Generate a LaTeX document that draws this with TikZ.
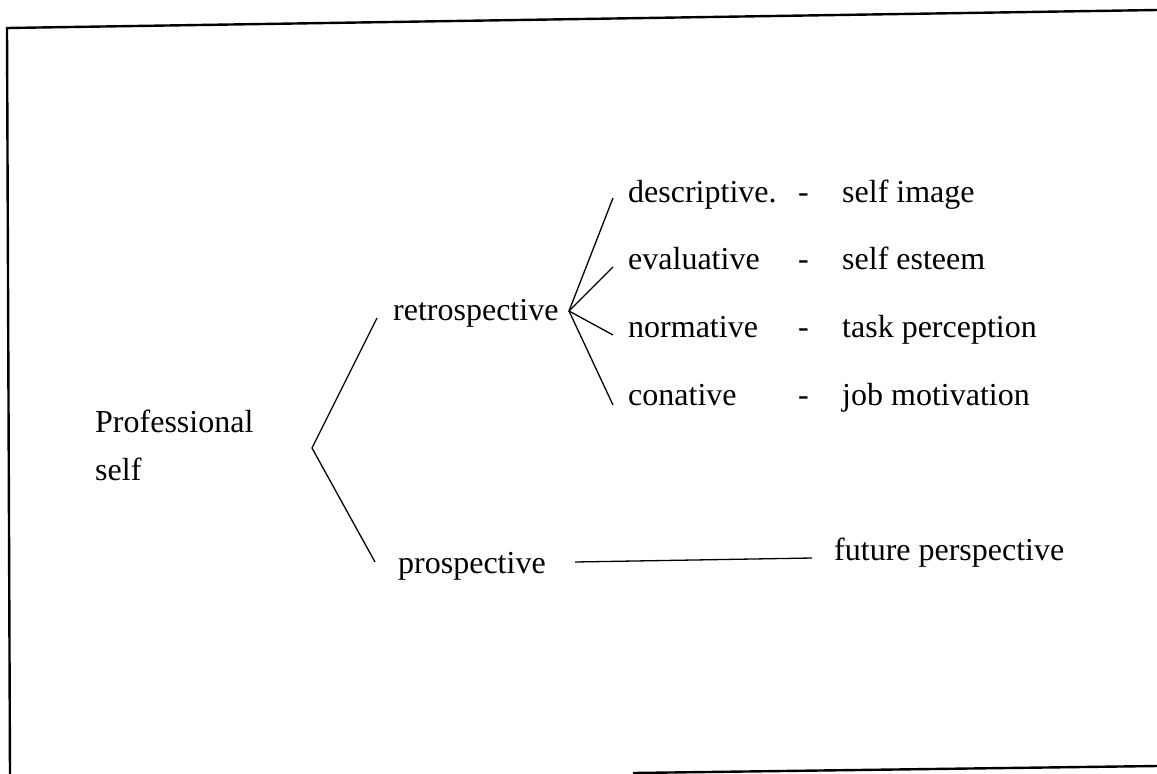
\documentclass[tikz,border=0pt]{standalone}
\usepackage{fontspec}
\setmainfont{Liberation Serif}
\begin{document}
\begin{tikzpicture}[x=1pt,y=-1pt,
  lbl/.style={anchor=base west,inner sep=0pt,font=\fontsize{32}{38}\selectfont},
  frame/.style={line width=2.4pt},
  conn/.style={line width=1.3pt}]
\useasboundingbox (0,0) rectangle (1157,774);
% frame
\coordinate (ftl) at (7,28);
\coordinate (ftr) at (1157,10);
\coordinate (fbl) at (10,774);
\coordinate (fb1) at (633,773);
\coordinate (fb2) at (1157,766);
\draw[frame] (fbl) -- (ftl) -- (ftr);
\draw[frame] (fb1) -- (fb2);
% texts
\node[lbl] (prof) at (95,432) {Professional};
\node[lbl] (self) at (95,480) {self};
\node[lbl] (retro) at (393,320) {retrospective};
\node[lbl] (pros) at (398,573) {prospective};
\node[lbl] (desc) at (628,202) {descriptive.};
\node[lbl] (eval) at (628,269) {evaluative};
\node[lbl] (norm) at (628,337) {normative};
\node[lbl] (conat) at (628,405) {conative};
\node[lbl] (d1) at (798,202) {-};
\node[lbl] (d2) at (798,269) {-};
\node[lbl] (d3) at (798,337) {-};
\node[lbl] (d4) at (798,405) {-};
\node[lbl] (simg) at (842,202) {self image};
\node[lbl] (sest) at (842,269) {self esteem};
\node[lbl] (task) at (842,337) {task perception};
\node[lbl] (job) at (842,405) {job motivation};
\node[lbl] (fut) at (834,560) {future perspective};
% connector points
\coordinate (a1) at (312,448);
\coordinate (r0) at (377,318);
\coordinate (p0) at (375,562);
\coordinate (a2) at (569,311);
\coordinate (e1) at (613,198);
\coordinate (e2) at (613,267);
\coordinate (e3) at (613,335);
\coordinate (e4) at (613,405);
\coordinate (f0) at (575,562);
\coordinate (f1) at (812,558);
\draw[conn] (r0) -- (a1) -- (p0);
\draw[conn] (e1) -- (a2) -- (e4);
\draw[conn] (e2) -- (a2) -- (e3);
\draw[conn] (f0) -- (f1);
\end{tikzpicture}
\end{document}
